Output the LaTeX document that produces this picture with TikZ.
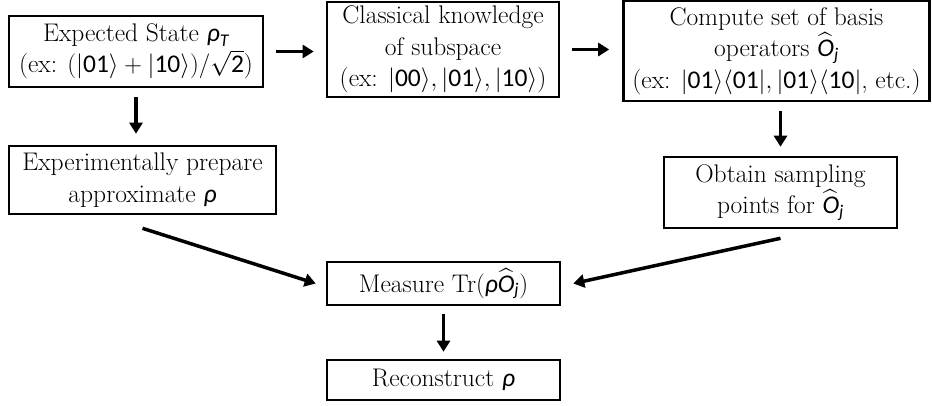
\documentclass[tikz,border=0pt]{standalone}
\usepackage{amsmath}
\usepackage{fontspec}
\usetikzlibrary{arrows.meta}
\newfontfamily\mathsansfont{Carlito}
\newcommand{\mi}[1]{\text{\mathsansfont\itshape #1}}
\newcommand{\md}[1]{\text{\mathsansfont #1}}
\newcommand{\kt}[1]{|\md{#1}\rangle}
\newcommand{\brx}[1]{\langle\md{#1}|}
\newcommand{\Oj}{\widehat{\mi{O}}_{\mi{j}}}
\tikzset{
  box/.style={draw, line width=2.6pt, align=center, inner sep=0pt,
    font=\fontsize{25.5}{31.5}\selectfont},
  arr/.style={line width=3.5pt, -{Triangle[length=11pt,width=13pt]}}
}
\begin{document}
\begin{tikzpicture}[x=1pt,y=-1pt]
\useasboundingbox (0,0) rectangle (932,405);
\node[box, minimum width=254pt, minimum height=71pt] (b1) at (136,51.5)
  {Expected State $\mi{ρ}_{\mi{T}}$\\(ex: $(\kt{01}+\kt{10})/\sqrt{\md{2}}$)};
\node[box, minimum width=232pt, minimum height=95pt] (b2) at (443,49.5)
  {Classical knowledge\\of subspace\\(ex: $\kt{00},\kt{01},\kt{10}$)};
\node[box, minimum width=306pt, minimum height=100pt] (b3) at (776.5,51)
  {Compute set of basis\\operators $\Oj$\\(ex: $\kt{01}\brx{01},\kt{01}\brx{10}$, etc.)};
\node[box, minimum width=267pt, minimum height=68pt] (b4) at (142.5,180)
  {Experimentally prepare\\approximate $\mi{ρ}$};
\node[box, minimum width=233pt, minimum height=71pt] (b5) at (780.5,192.5)
  {Obtain sampling\\points for $\Oj$};
\node[box, minimum width=233pt, minimum height=43pt] (b6) at (443.5,283.5)
  {Measure Tr$(\mi{ρ}\Oj)$};
\node[box, minimum width=233pt, minimum height=40pt] (b7) at (443.5,380)
  {Reconstruct $\mi{ρ}$};
\draw[arr, shorten <=12pt, shorten >=12pt] (b1.east) -- (b1.east -| b2.west);
\draw[arr, shorten <=12pt, shorten >=13pt] (b2.east) -- (b2.east -| b3.west);
\draw[arr, shorten <=9pt, shorten >=11pt] (b1.south) -- (b1.south |- b4.north);
\draw[arr, shorten <=9pt, shorten >=9pt] (b5.north |- b3.south) -- (b5.north);
\draw[arr] ([yshift=-13pt]b4.south) -- ([xshift=-10pt]b6.west);
\draw[arr] ([yshift=-9pt]b5.south) -- ([xshift=12pt]b6.east);
\draw[arr, shorten <=8pt, shorten >=7pt] (b6.south) -- (b7.north);
\end{tikzpicture}
\end{document}
